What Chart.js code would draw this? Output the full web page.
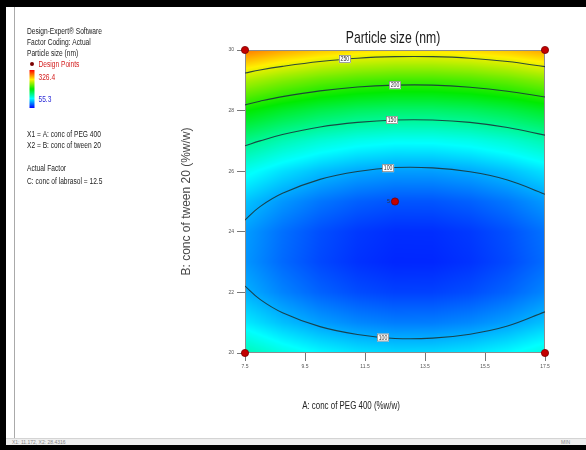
<!DOCTYPE html>
<html><head><meta charset="utf-8">
<script src="https://cdn.jsdelivr.net/npm/chart.js@4.4.1/dist/chart.umd.min.js"></script>
<style>
html,body{margin:0;padding:0;background:#fff;width:586px;height:450px;overflow:hidden;position:relative}
#c{position:absolute;left:0;top:0}
.blk{position:absolute;background:#000;z-index:2}
.st{position:absolute;z-index:3;font:5px "Liberation Sans",Arial,sans-serif;color:#888;white-space:nowrap}
</style></head><body>
<canvas id="c" width="586" height="450"></canvas>
<div class="blk" style="left:0;top:0;width:586px;height:7px"></div>
<div class="blk" style="left:0;top:0;width:6px;height:450px"></div>
<div class="blk" style="left:0;top:445px;width:586px;height:5px"></div>
<div style="position:absolute;z-index:2;left:14px;top:7px;width:1px;height:431px;background:#aaa"></div>
<div style="position:absolute;z-index:2;left:6px;top:438px;width:580px;height:7px;background:#eeeeee;border-top:1px solid #d4d4d4;box-sizing:border-box"></div>
<div class="st" style="left:12px;top:439px">X1: 11.172, X2: 28.4316</div>
<div class="st" style="left:561px;top:439px">MIN</div>
<script>
// ---- data ----
const xGrid = [7.5, 8.75, 10, 11.25, 12.5, 13.75, 15, 16.25, 17.5];   // A: conc of PEG 400
const yGrid = [20, 21, 22, 23, 24, 25, 26, 27, 28, 29, 30];           // B: conc of tween 20
const sizeGrid = [ // particle size (nm), rows follow yGrid, columns follow xGrid
  [142.7, 130.8, 121.9, 116.0, 113.0, 113.1, 116.2, 122.3, 131.4],
  [118.1, 106.2,  97.3,  91.4,  88.4,  88.5,  91.6,  97.7, 106.8],
  [102.2,  90.3,  81.4,  75.5,  72.5,  72.6,  75.7,  81.8,  90.9],
  [ 95.2,  83.3,  74.4,  68.5,  65.5,  65.6,  68.7,  74.8,  83.9],
  [ 97.0,  85.1,  76.2,  70.3,  67.3,  67.4,  70.5,  76.6,  85.7],
  [107.5,  95.6,  86.7,  80.8,  77.8,  77.9,  81.0,  87.1,  96.2],
  [126.9, 115.0, 106.1, 100.2,  97.2,  97.3, 100.4, 106.5, 115.6],
  [155.0, 143.1, 134.2, 128.3, 125.3, 125.4, 128.5, 134.6, 143.7],
  [192.0, 180.1, 171.2, 165.3, 162.3, 162.4, 165.5, 171.6, 180.7],
  [237.8, 225.9, 217.0, 211.1, 208.1, 208.2, 211.3, 217.4, 226.5],
  [292.3, 280.4, 271.5, 265.6, 262.6, 262.7, 265.8, 271.9, 281.0]
];
const colorRange = [55.3, 326.4];
const contourX    = [7.5, 8.0, 8.75, 10, 11.25, 12.5, 13.75, 15, 16.25, 17.5];
const contour250  = [29.24, 29.34, 29.46, 29.62, 29.73, 29.78, 29.78, 29.73, 29.62, 29.45];
const contour200  = [28.19, 28.31, 28.46, 28.65, 28.78, 28.84, 28.84, 28.77, 28.64, 28.45];
const contour150  = [26.84, 27.00, 27.21, 27.46, 27.61, 27.69, 27.69, 27.61, 27.44, 27.19];
const contour100a = [24.39, 24.83, 25.27, 25.73, 25.99, 26.12, 26.11, 25.98, 25.71, 25.24];
const contour100b = [22.21, 21.77, 21.33, 20.87, 20.61, 20.48, 20.49, 20.62, 20.89, 21.36];
const contourLabels = ['250', '200', '150', '100', '100'];
const labelX = [10.83, 12.5, 12.4, 12.27, 12.1];
const labelY = [29.70, 28.84, 27.69, 26.10, 20.51];
const designX = [7.5, 17.5, 7.5, 17.5, 12.5];
const designY = [20, 20, 30, 30, 25];
const designCount = ['', '', '', '', '5'];
const xTicks = [7.5, 9.5, 11.5, 13.5, 15.5, 17.5];
const yTicks = [20, 22, 24, 26, 28, 30];
const panelLines = ['Design-Expert\u00ae Software', 'Factor Coding: Actual', 'Particle size (nm)'];
const factorLines = ['X1 = A: conc of PEG 400', 'X2 = B: conc of tween 20'];
const actualLines = ['Actual Factor', 'C: conc of labrasol = 12.5'];

// ---- helpers ----
const FONT = '"Liberation Sans", Arial, sans-serif';
const stops = [[0,[0,0,255]],[0.25,[0,255,255]],[0.5,[0,235,0]],[0.75,[255,240,0]],[1,[255,0,0]]];
function cmap(v){
  let t = (v - colorRange[0]) / (colorRange[1] - colorRange[0]);
  t = Math.max(0, Math.min(1, t));
  for (let i = 0; i < stops.length - 1; i++) {
    const [t0,c0] = stops[i], [t1,c1] = stops[i+1];
    if (t <= t1) { const f = (t - t0)/(t1 - t0);
      return [c0[0]+(c1[0]-c0[0])*f, c0[1]+(c1[1]-c0[1])*f, c0[2]+(c1[2]-c0[2])*f]; }
  }
  return stops[stops.length-1][1];
}
function locate(arr, v){
  let i = 0;
  while (i < arr.length - 2 && v > arr[i+1]) i++;
  let f = (v - arr[i]) / (arr[i+1] - arr[i]);
  return [i, Math.max(0, Math.min(1, f))];
}
function fieldAt(xv, yv){
  const [i, fx] = locate(xGrid, xv), [j, fy] = locate(yGrid, yv);
  const a = sizeGrid[j][i], b = sizeGrid[j][i+1], c = sizeGrid[j+1][i], d = sizeGrid[j+1][i+1];
  return (a*(1-fx) + b*fx)*(1-fy) + (c*(1-fx) + d*fx)*fy;
}
function ctext(ctx, s, x, y, size, sx, color, align){
  ctx.save(); ctx.translate(x, y); ctx.scale(sx, 1);
  ctx.font = size + 'px ' + FONT; ctx.fillStyle = color;
  ctx.textAlign = align || 'left'; ctx.textBaseline = 'middle';
  ctx.fillText(s, 0, 0); ctx.restore();
}

const heatPlugin = {
  id: 'heat',
  beforeDatasetsDraw(chart){
    const {ctx, chartArea: a, scales: {x, y}} = chart;
    const w = Math.round(a.right - a.left), h = Math.round(a.bottom - a.top);
    const img = ctx.createImageData(w, h);
    for (let py = 0; py < h; py++) {
      const yv = y.getValueForPixel(a.top + py + 0.5);
      for (let px = 0; px < w; px++) {
        const xv = x.getValueForPixel(a.left + px + 0.5);
        const c = cmap(fieldAt(xv, yv));
        const k = (py*w + px)*4;
        img.data[k] = c[0]; img.data[k+1] = c[1]; img.data[k+2] = c[2]; img.data[k+3] = 255;
      }
    }
    ctx.putImageData(img, Math.round(a.left), Math.round(a.top));
    ctx.save(); ctx.strokeStyle = '#8c8c8c'; ctx.lineWidth = 1;
    ctx.strokeRect(Math.round(a.left)+0.5, Math.round(a.top)+0.5, w-1, h-1);
    ctx.restore();
  },
  afterDatasetsDraw(chart){
    const {ctx, scales: {x, y}} = chart;
    contourLabels.forEach((s, i) => {
      const px = x.getPixelForValue(labelX[i]), py = y.getPixelForValue(labelY[i]);
      ctx.save(); ctx.fillStyle = '#fff'; ctx.strokeStyle = '#777'; ctx.lineWidth = 0.7;
      ctx.fillRect(px-6, py-4, 12, 8); ctx.strokeRect(px-6+0.5, py-4+0.5, 11, 7); ctx.restore();
      ctext(ctx, s, px, py+0.5, 6.5, 0.8, '#333', 'center');
    });
    designCount.forEach((s, i) => {
      if (!s) return;
      ctext(ctx, s, x.getPixelForValue(designX[i]) - 5, y.getPixelForValue(designY[i]), 6, 0.9, '#333', 'right');
    });
  },
  afterDraw(chart){
    const ctx = chart.ctx;
    // title
    ctext(ctx, 'Particle size (nm)', 393, 38.5, 17, 0.72, '#1a1a1a', 'center');
    // x axis title
    ctext(ctx, 'A: conc of PEG 400 (%w/w)', 351, 405.5, 11, 0.72, '#222', 'center');
    // left panel
    const L = 27, S = 8.5, SX = 0.78;
    ctext(ctx, panelLines[0], L, 32, S, SX, '#222');
    ctext(ctx, panelLines[1], L, 43, S, SX, '#222');
    ctext(ctx, panelLines[2], L, 53.5, S, SX, '#222');
    ctx.save(); ctx.fillStyle = '#7a0000'; ctx.beginPath(); ctx.arc(32, 64, 2, 0, Math.PI*2); ctx.fill(); ctx.restore();
    ctext(ctx, 'Design Points', 38.5, 65, S, SX, '#d42020');
    const g = ctx.createLinearGradient(0, 108, 0, 70);
    stops.forEach(([t, c]) => g.addColorStop(t, 'rgb(' + c.map(Math.round).join(',') + ')'));
    ctx.save(); ctx.fillStyle = g; ctx.fillRect(29.5, 70, 5, 38); ctx.restore();
    ctext(ctx, String(colorRange[1]), 38.5, 78, S, SX, '#d42020');
    ctext(ctx, String(colorRange[0]), 38.5, 100, S, SX, '#2a2ad8');
    ctext(ctx, factorLines[0], L, 135, S, SX, '#222');
    ctext(ctx, factorLines[1], L, 146, S, SX, '#222');
    ctext(ctx, actualLines[0], L, 169, S, SX, '#222');
    ctext(ctx, actualLines[1], L, 182, S, SX, '#222');
  }
};

const lineStyle = {showLine: true, pointRadius: 0, borderColor: 'rgba(25,55,60,0.9)', borderWidth: 1.1, tension: 0.4, fill: false};
const mk = arr => contourX.map((xv, i) => ({x: xv, y: arr[i]}));

new Chart(document.getElementById('c'), {
  type: 'scatter',
  data: { datasets: [
    {label: 'Design Points', data: designX.map((xv, i) => ({x: xv, y: designY[i]})),
     pointRadius: 3.6, backgroundColor: '#c40000', borderColor: '#7a0000', borderWidth: 0.8, clip: false},
    Object.assign({label: '250', data: mk(contour250)}, lineStyle),
    Object.assign({label: '200', data: mk(contour200)}, lineStyle),
    Object.assign({label: '150', data: mk(contour150)}, lineStyle),
    Object.assign({label: '100a', data: mk(contour100a)}, lineStyle),
    Object.assign({label: '100b', data: mk(contour100b)}, lineStyle)
  ]},
  options: {
    responsive: false, animation: false, devicePixelRatio: 1,
    layout: {padding: {left: 175, top: 50, right: 41, bottom: 0}},
    plugins: {legend: {display: false}, tooltip: {enabled: false}, title: {display: false}},
    scales: {
      x: {type: 'linear', position: 'bottom', min: 7.5, max: 17.5,
        afterBuildTicks: s => { s.ticks = xTicks.map(v => ({value: v})); },
        afterFit: s => { s.height = 97; },
        grid: {drawOnChartArea: false, drawTicks: true, tickLength: 8, color: '#777'},
        border: {display: false},
        ticks: {font: {size: 5, family: FONT}, color: '#555', padding: 3, maxRotation: 0, autoSkip: false,
          callback: v => String(v)}},
      y: {type: 'linear', position: 'left', min: 20, max: 30,
        afterBuildTicks: s => { s.ticks = yTicks.map(v => ({value: v})); },
        afterFit: s => { s.width = 70; },
        grid: {drawOnChartArea: false, drawTicks: true, tickLength: 8, color: '#777'},
        border: {display: false},
        title: {display: true, text: 'B: conc of tween 20 (%w/w)', color: '#484848',
          font: {size: 12, family: FONT}, padding: {top: 4, bottom: 4}},
        ticks: {font: {size: 5, family: FONT}, color: '#555', padding: 3, autoSkip: false,
          callback: v => String(v)}}
    }
  },
  plugins: [heatPlugin]
});
</script>
</body></html>
